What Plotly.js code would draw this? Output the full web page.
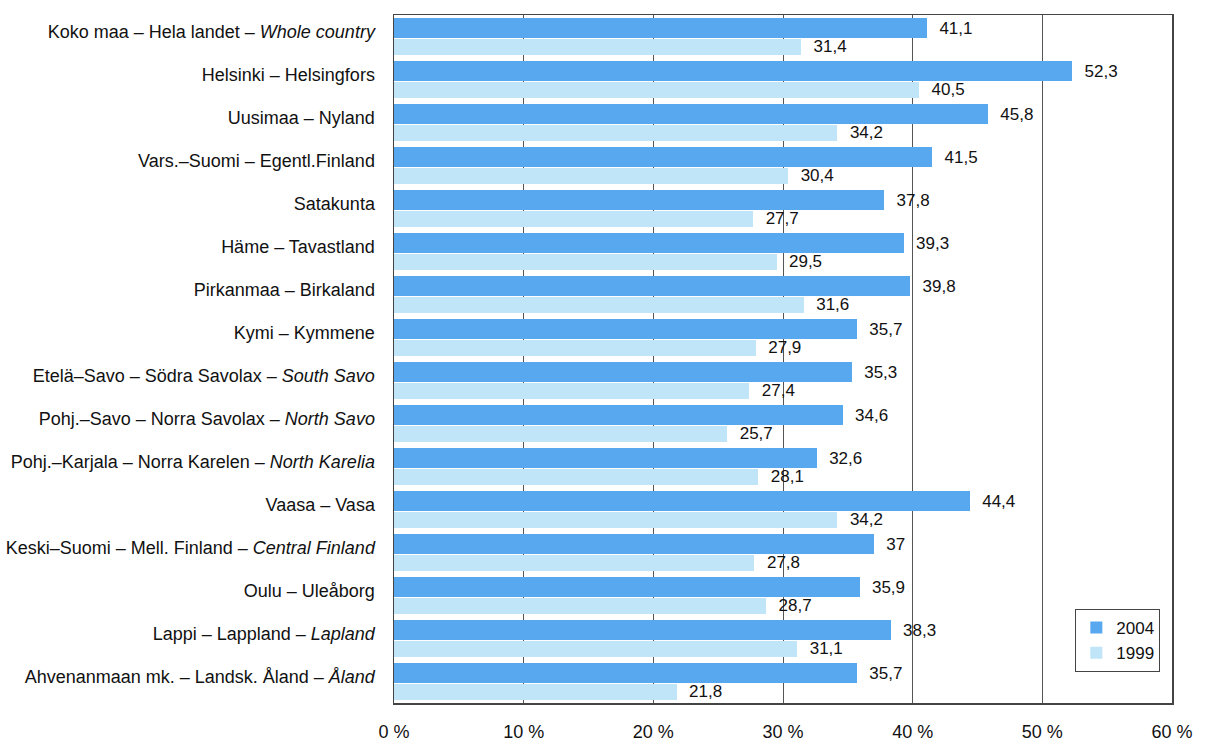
<!DOCTYPE html>
<html>
<head>
<meta charset="utf-8">
<script src="https://cdn.plot.ly/plotly-3.0.1.min.js"></script>
<style>body{margin:0;background:#fff}#chart{width:1206px;height:741px}</style>
</head>
<body>
<div id="chart"></div>
<script>
const categories = [
  "Koko maa – Hela landet – <i>Whole country</i>",
  "Helsinki – Helsingfors",
  "Uusimaa – Nyland",
  "Vars.–Suomi – Egentl.Finland",
  "Satakunta",
  "Häme – Tavastland",
  "Pirkanmaa – Birkaland",
  "Kymi – Kymmene",
  "Etelä–Savo – Södra Savolax – <i>South Savo</i>",
  "Pohj.–Savo – Norra Savolax – <i>North Savo</i>",
  "Pohj.–Karjala – Norra Karelen – <i>North Karelia</i>",
  "Vaasa – Vasa",
  "Keski–Suomi – Mell. Finland – <i>Central Finland</i>",
  "Oulu – Uleåborg",
  "Lappi – Lappland – <i>Lapland</i>",
  "Ahvenanmaan mk. – Landsk. Åland – <i>Åland</i>"
];
const values2004 = [41.1, 52.3, 45.8, 41.5, 37.8, 39.3, 39.8, 35.7, 35.3, 34.6, 32.6, 44.4, 37, 35.9, 38.3, 35.7];
const values1999 = [31.4, 40.5, 34.2, 30.4, 27.7, 29.5, 31.6, 27.9, 27.4, 25.7, 28.1, 34.2, 27.8, 28.7, 31.1, 21.8];
const tickValues = [0, 10, 20, 30, 40, 50, 60];
const tickLabels = ["0 %", "10 %", "20 %", "30 %", "40 %", "50 %", "60 %"];

const idx = categories.map((c, i) => i);
const fmt = v => '\u00a0\u00a0' + String(v).replace('.', ',');
const FONT = "Liberation Sans, Arial, sans-serif";

const t2004 = {
  type: 'bar', orientation: 'h', name: '2004',
  x: values2004, y: idx,
  offset: -0.43, width: 0.465,
  marker: {color: '#58a8ef', line: {width: 0}},
  text: values2004.map(fmt), textposition: 'outside', cliponaxis: false,
  constraintext: 'none',
  textfont: {family: FONT, size: 17, color: '#111'}
};
const t1999 = {
  type: 'bar', orientation: 'h', name: '1999',
  x: values1999, y: idx,
  offset: 0.058, width: 0.37,
  marker: {color: '#c0e4f8', line: {width: 0}},
  text: values1999.map(fmt), textposition: 'outside', cliponaxis: false,
  constraintext: 'none',
  textfont: {family: FONT, size: 17, color: '#111'}
};

const layout = {
  width: 1206, height: 741,
  margin: {l: 394, r: 34, t: 15, b: 38, pad: 0},
  paper_bgcolor: '#fff', plot_bgcolor: '#fff',
  font: {family: FONT, size: 17, color: '#111'},
  showlegend: true,
  legend: {
    x: 0.985, xanchor: 'right', y: 0.045, yanchor: 'bottom',
    bordercolor: '#444', borderwidth: 1, bgcolor: '#fff',
    font: {family: FONT, size: 17, color: '#111'},
    traceorder: 'normal'
  },
  xaxis: {
    range: [0, 60], tickvals: tickValues, ticktext: tickLabels,
    showgrid: true, gridcolor: '#555', gridwidth: 1,
    zeroline: false, showline: true, linecolor: '#444', linewidth: 1.5, mirror: true,
    ticks: '', ticklen: 0, fixedrange: true, ticklabelstandoff: 12,
    tickfont: {family: FONT, size: 18, color: '#111'}
  },
  yaxis: {
    range: [15.5, -0.5], tickvals: idx.map(i => i - 0.12), ticktext: categories,
    showgrid: false, zeroline: false, showline: true, linecolor: '#444', linewidth: 1.5, mirror: true,
    ticks: '', ticklabelstandoff: 14,
    tickfont: {family: FONT, size: 18, color: '#111'}
  },
  bargap: 0
};

Plotly.newPlot('chart', [t2004, t1999], layout, {displayModeBar: false, staticPlot: true});
</script>
</body>
</html>
